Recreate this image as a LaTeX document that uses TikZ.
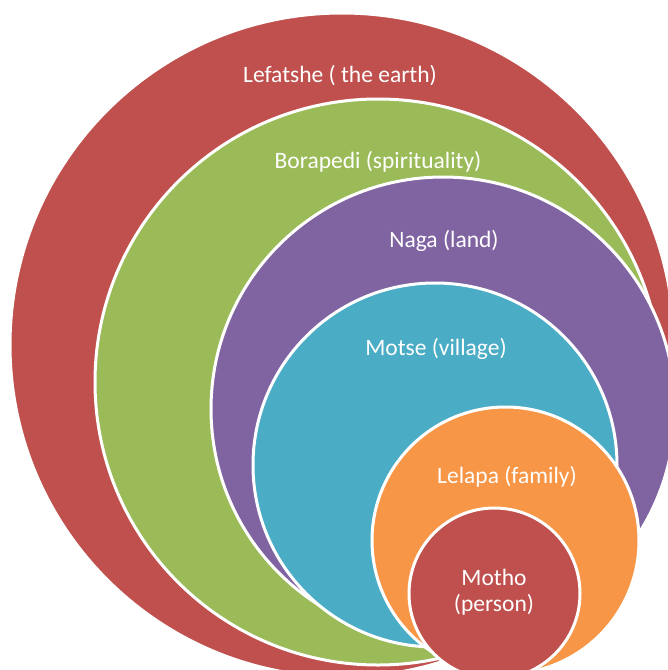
\documentclass[tikz,border=0pt]{standalone}
\usepackage{fontspec}
\setmainfont{Carlito}
\definecolor{cred}{HTML}{C0504D}
\definecolor{cgreen}{HTML}{9BBB59}
\definecolor{cpurple}{HTML}{8064A2}
\definecolor{ccyan}{HTML}{4BACC6}
\definecolor{corange}{HTML}{F79646}
\begin{document}
\begin{tikzpicture}[x=1pt,y=-1pt,
  ring/.style={circle,draw=white,line width=3pt,inner sep=0pt,outer sep=0pt},
  lbl/.style={text=white,font=\fontsize{23.5}{26}\selectfont,align=center,inner sep=0pt}]
\useasboundingbox (0,0) rectangle (668,670);
\clip (0,0) rectangle (668,670);
\node[ring,fill=cred,minimum size=664pt] (earth) at (342,345) {};
\node[ring,fill=cgreen,minimum size=566pt] (spirit) at (378,382) {};
\node[ring,fill=cpurple,minimum size=464pt] (land) at (443,409) {};
\node[ring,fill=ccyan,minimum size=364pt] (village) at (435,465) {};
\node[ring,fill=corange,minimum size=267pt] (family) at (505.5,540.5) {};
\node[ring,fill=cred,minimum size=171pt] (person) at (494.5,593.5) {};
\node[lbl] (tearth) at (340,76) {Lefatshe ( the earth)};
\node[lbl] (tspirit) at (378,162) {Borapedi (spirituality)};
\node[lbl] (tland) at (444,241) {Naga (land)};
\node[lbl] (tvillage) at (436,349) {Motse (village)};
\node[lbl] (tfamily) at (507,477) {Lelapa (family)};
\node[lbl] (tperson) at (494,592) {Motho\\(person)};
\end{tikzpicture}
\end{document}
